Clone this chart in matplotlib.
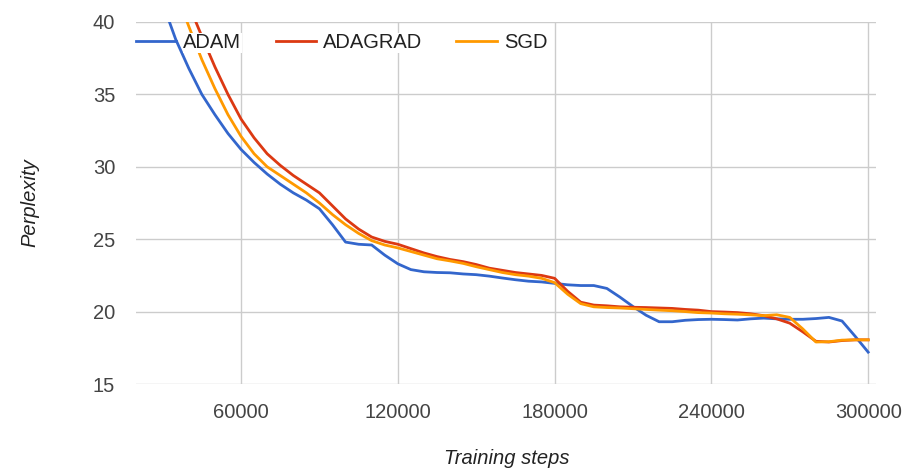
import matplotlib.pyplot as plt

plt.rcParams['font.family'] = ['Liberation Sans', 'DejaVu Sans']

steps = list(range(25000, 300001, 5000))

adam = [44.5, 41.3, 38.8, 36.8, 35.0, 33.6, 32.3, 31.2, 30.3, 29.5,
        28.8, 28.2, 27.7, 27.1, 26.0, 24.8, 24.65, 24.6, 23.9, 23.3,
        22.9, 22.75, 22.7, 22.68, 22.6, 22.55, 22.45, 22.32, 22.2, 22.1,
        22.05, 21.95, 21.85, 21.8, 21.8, 21.6, 21.0, 20.35, 19.75, 19.3,
        19.3, 19.4, 19.45, 19.47, 19.45, 19.42, 19.5, 19.55, 19.5, 19.47,
        19.47, 19.52, 19.6, 19.35, 18.3, 17.2]

adagrad = [50.5, 47.0, 43.8, 41.2, 39.0, 36.9, 35.0, 33.3, 32.0, 30.9,
           30.1, 29.4, 28.8, 28.2, 27.3, 26.4, 25.7, 25.15, 24.85, 24.65,
           24.35, 24.05, 23.8, 23.6, 23.45, 23.25, 23.0, 22.85, 22.7, 22.6,
           22.5, 22.3, 21.4, 20.65, 20.45, 20.4, 20.33, 20.3, 20.28, 20.25,
           20.22, 20.15, 20.1, 20.0, 19.97, 19.93, 19.85, 19.72, 19.5, 19.2,
           18.6, 17.95, 17.9, 18.0, 18.05, 18.05]

sgd = [48.5, 45.0, 42.1, 39.7, 37.4, 35.4, 33.6, 32.1, 30.9, 30.0,
       29.4, 28.8, 28.2, 27.5, 26.7, 26.0, 25.4, 24.9, 24.6, 24.4,
       24.15, 23.9, 23.65, 23.5, 23.33, 23.1, 22.9, 22.7, 22.55, 22.45,
       22.3, 22.0, 21.2, 20.55, 20.33, 20.28, 20.25, 20.2, 20.15, 20.1,
       20.06, 20.0, 19.93, 19.9, 19.85, 19.82, 19.78, 19.72, 19.78, 19.6,
       18.8, 17.9, 17.92, 18.03, 18.05, 18.05]

x_ticks = [60000, 120000, 180000, 240000, 300000]
y_ticks = [15, 20, 25, 30, 35, 40]

fig = plt.figure(figsize=(9.03, 4.68), dpi=100)
ax = fig.add_axes([136 / 903, 1 - 384 / 468, 740 / 903, 362 / 468])

ax.plot(steps, adam, color='#3366cc', lw=2, label='ADAM', solid_joinstyle='round')
ax.plot(steps, adagrad, color='#dc3912', lw=2, label='ADAGRAD', solid_joinstyle='round')
ax.plot(steps, sgd, color='#ff9900', lw=2, label='SGD', solid_joinstyle='round')

ax.set_xlim(19800, 303000)
ax.set_ylim(15, 40)
ax.set_xticks(x_ticks)
ax.set_yticks(y_ticks)
ax.grid(True, color='#cccccc', lw=1)
ax.set_axisbelow(True)
for s in ax.spines.values():
    s.set_visible(False)
ax.tick_params(length=0, labelsize=14.5, labelcolor='#444444')
ax.tick_params(axis='x', pad=13.5)
ax.tick_params(axis='y', pad=15)

fig.text(30 / 903, 1 - 203 / 468, 'Perplexity', rotation=90, style='italic',
         fontsize=14.5, color='#222222', ha='center', va='center')
fig.text(507 / 903, 1 - 458 / 468, 'Training steps', style='italic',
         fontsize=14.5, color='#222222', ha='center', va='center')

leg = ax.legend(loc='center left', bbox_to_anchor=(0, 0.942), ncol=3, frameon=False,
                borderaxespad=0, borderpad=0, handlelength=2.0, handletextpad=0.35,
                columnspacing=1.7, fontsize=14.5, labelcolor='#222222')
for t in leg.get_texts():
    t.set_bbox(dict(facecolor='white', edgecolor='none', pad=0.5))

fig.savefig('out.png', dpi=100)
